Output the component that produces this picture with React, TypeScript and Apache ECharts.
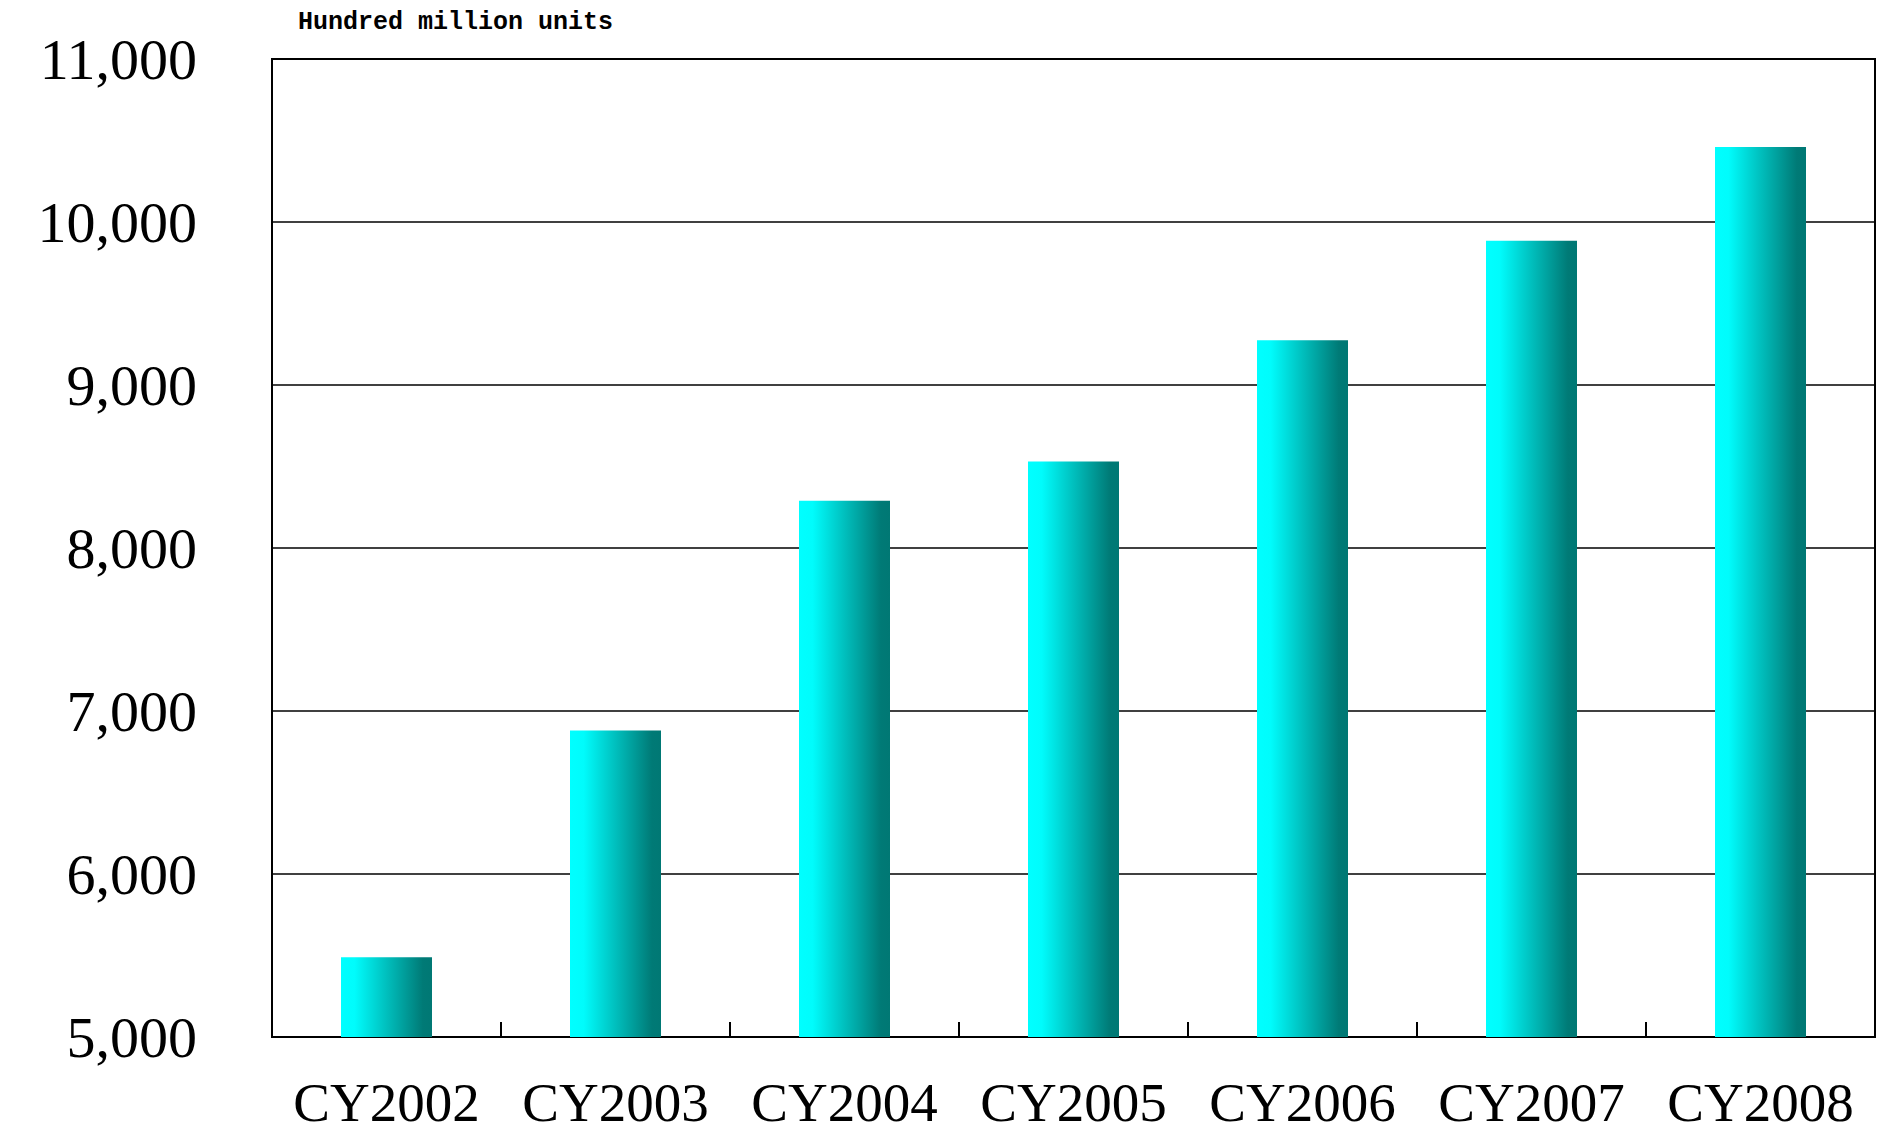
import React, { useEffect, useRef } from "react";
import * as echarts from "echarts";

const categories = ["CY2002", "CY2003", "CY2004", "CY2005", "CY2006", "CY2007", "CY2008"];
const values = [5490, 6880, 8290, 8530, 9275, 9885, 10460];
const unitLabel = "Hundred million units";
const yMin = 5000;
const yMax = 11000;
const yStep = 1000;

export default function App() {
  const ref = useRef<HTMLDivElement>(null);
  useEffect(() => {
    if (!ref.current) return;
    const chart = echarts.init(ref.current, null, { renderer: "svg" });
    chart.setOption({
      animation: false,
      backgroundColor: "#ffffff",
      title: {
        text: unitLabel,
        left: 293,
        top: 5,
        textStyle: {
          fontFamily: "Liberation Mono",
          fontSize: 25,
          fontWeight: "bold",
          color: "#000",
        },
      },
      grid: {
        left: 272,
        right: 2,
        top: 59,
        bottom: 98,
        show: true,
        borderColor: "#000",
        borderWidth: 2,
        backgroundColor: "transparent",
      },
      xAxis: {
        type: "category",
        data: categories,
        axisLine: { show: true, lineStyle: { color: "#000", width: 2 } },
        axisTick: { show: true, inside: true, interval: 0, length: 15, lineStyle: { color: "#000", width: 2 } },
        axisLabel: {
          interval: 0,
          color: "#000",
          fontFamily: "Liberation Serif",
          fontSize: 55,
          margin: 38,
        },
      },
      yAxis: {
        type: "value",
        min: yMin,
        max: yMax,
        interval: yStep,
        axisLine: { show: true, lineStyle: { color: "#000", width: 2 } },
        axisTick: { show: false },
        splitLine: { show: true, lineStyle: { color: "#000", width: 1.5 } },
        axisLabel: {
          color: "#000",
          fontFamily: "Liberation Serif",
          fontSize: 58,
          margin: 75,
          formatter: (v: number) => v.toLocaleString("en-US"),
        },
      },
      series: [
        {
          type: "bar",
          data: values,
          barWidth: 91,
          itemStyle: {
            color: new echarts.graphic.LinearGradient(0, 0, 1, 0, [
              { offset: 0, color: "#00FFFF" },
              { offset: 0.15, color: "#00FCFC" },
              { offset: 0.9, color: "#007A76" },
              { offset: 1, color: "#007874" },
            ]),
          },
        },
      ],
    });
    return () => chart.dispose();
  }, []);
  return (
    <div
      ref={ref}
      style={{ position: "absolute", left: 0, top: 0, width: 1877, height: 1135 }}
    />
  );
}
